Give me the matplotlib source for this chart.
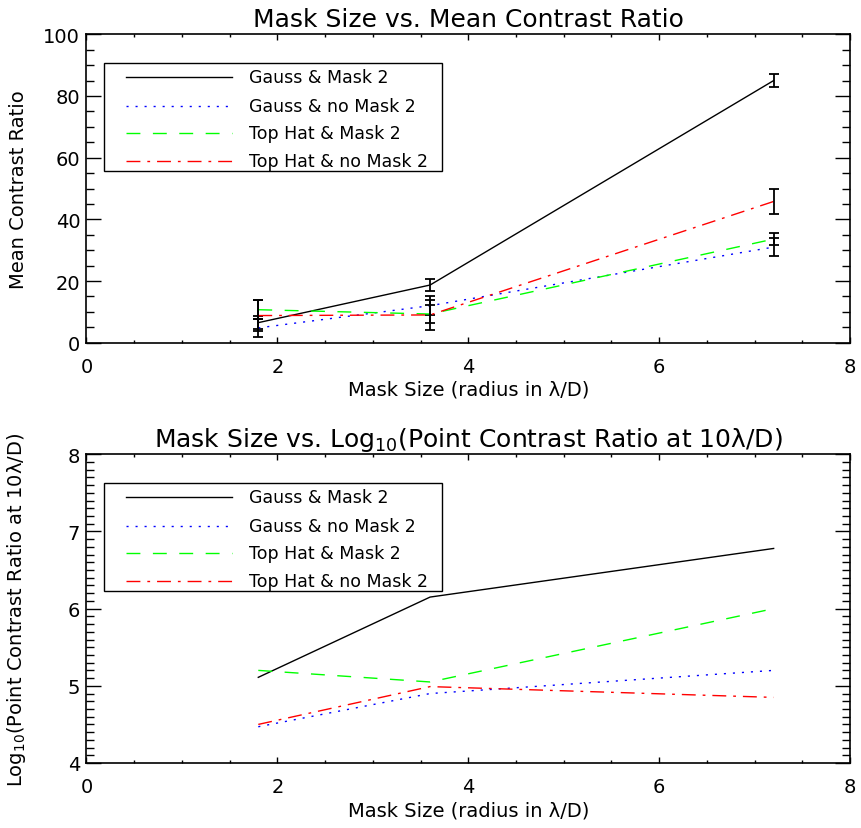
import matplotlib
matplotlib.use("Agg")
import matplotlib.pyplot as plt
from matplotlib.ticker import MultipleLocator
from matplotlib.lines import Line2D
from matplotlib.patches import Rectangle

# ---------------- data ----------------
mask_size = [1.8, 3.6, 7.2]
series_names = ["Gauss & Mask 2", "Gauss & no Mask 2", "Top Hat & Mask 2", "Top Hat & no Mask 2"]

mean_gauss_mask = [6.5, 18.7, 85.0]
mean_gauss_nomask = [4.8, 12.0, 31.0]
mean_tophat_mask = [10.7, 9.3, 33.6]
mean_tophat_nomask = [8.8, 9.0, 45.8]

err_gauss_mask = [2.0, 2.0, 2.0]
err_gauss_nomask = [3.0, 3.0, 3.0]
err_tophat_mask = [3.0, 3.0, 2.0]
err_tophat_nomask = [5.0, 5.0, 4.0]

log_gauss_mask = [5.11, 6.15, 6.78]
log_gauss_nomask = [4.47, 4.90, 5.20]
log_tophat_mask = [5.20, 5.05, 6.00]
log_tophat_nomask = [4.50, 4.99, 4.85]

colors = ["black", "#0000ff", "#00ff00", "#ff0000"]
styles = ["-", (0, (1.5, 5)), (0, (10, 9)), (0, (10, 5, 2, 5))]

W, H = 862, 829
fig = plt.figure(figsize=(W / 100, H / 100), dpi=100)
plt.rcParams['font.family'] = ['DejaVu Sans']

def px_box(l, t, r, b):
    return [l / W, 1 - b / H, (r - l) / W, (b - t) / H]

ax1 = fig.add_axes(px_box(86.5, 35.3, 850, 343.7))
ax2 = fig.add_axes(px_box(86.5, 455.3, 850, 764))

FS = 12.5
TFS = 14
LFS = 14
TITLEFS = 18

def style_axes(ax, ymin, ymax, ymajor, yminor):
    ax.set_xlim(0, 8)
    ax.set_ylim(ymin, ymax)
    ax.xaxis.set_major_locator(MultipleLocator(2))
    ax.xaxis.set_minor_locator(MultipleLocator(0.5))
    ax.yaxis.set_major_locator(MultipleLocator(ymajor))
    ax.yaxis.set_minor_locator(MultipleLocator(yminor))
    for s in ax.spines.values():
        s.set_linewidth(1.2)
    ax.tick_params(axis='both', which='both', direction='in', top=True, right=True, width=1.0)
    ax.tick_params(axis='x', which='major', length=4.3, pad=10, labelsize=TFS)
    ax.tick_params(axis='x', which='minor', length=2.2)
    ax.tick_params(axis='y', which='major', length=11, pad=4.5, labelsize=TFS)
    ax.tick_params(axis='y', which='minor', length=5.5)
    ax.yaxis.set_label_coords(-0.0766, 0.5)

def legend(ax):
    ax.add_patch(Rectangle((0.0233, 0.5558), 0.4419, 0.3512, transform=ax.transAxes,
                           fill=False, edgecolor='black', linewidth=1.0, zorder=5))
    rows = [0.8606, 0.7685, 0.6790, 0.5902]
    for name, c, ls, yy in zip(series_names, colors, styles, rows):
        ax.add_line(Line2D([0.0517, 0.1902], [yy, yy], transform=ax.transAxes,
                           color=c, linestyle=ls, linewidth=1.0, zorder=5))
        ax.text(0.2133, yy, name, transform=ax.transAxes, fontsize=FS, va='center', ha='left')

# ---------- top plot ----------
style_axes(ax1, 0, 100, 20, 5)
means = [mean_gauss_mask, mean_gauss_nomask, mean_tophat_mask, mean_tophat_nomask]
errs = [err_gauss_mask, err_gauss_nomask, err_tophat_mask, err_tophat_nomask]
for m, e, c, ls in zip(means, errs, colors, styles):
    ax1.plot(mask_size, m, color=c, linestyle=ls, linewidth=1.0)
    ax1.errorbar(mask_size, m, yerr=e, fmt='none', ecolor='black', elinewidth=1.3,
                 capsize=3.6, capthick=1.3)
ax1.set_title("Mask Size vs. Mean Contrast Ratio", fontsize=TITLEFS, pad=6)
ax1.set_xlabel("Mask Size (radius in λ/D)", fontsize=LFS, labelpad=3)
ax1.set_ylabel("Mean Contrast Ratio", fontsize=LFS)
legend(ax1)

# ---------- bottom plot ----------
style_axes(ax2, 4, 8, 1, 0.1)
logs = [log_gauss_mask, log_gauss_nomask, log_tophat_mask, log_tophat_nomask]
for v, c, ls in zip(logs, colors, styles):
    ax2.plot(mask_size, v, color=c, linestyle=ls, linewidth=1.0)
ax2.set_title("Mask Size vs. Log$_{10}$(Point Contrast Ratio at 10λ/D)", fontsize=TITLEFS, pad=6)
ax2.set_xlabel("Mask Size (radius in λ/D)", fontsize=LFS, labelpad=3)
ax2.set_ylabel("Log$_{10}$(Point Contrast Ratio at 10λ/D)", fontsize=LFS)
legend(ax2)

fig.canvas.draw()
for ax in (ax1, ax2):
    labs = ax.get_yticklabels()
    labs[0].set_va('bottom')
    labs[-1].set_va('top')

fig.savefig("out.png", dpi=100)
